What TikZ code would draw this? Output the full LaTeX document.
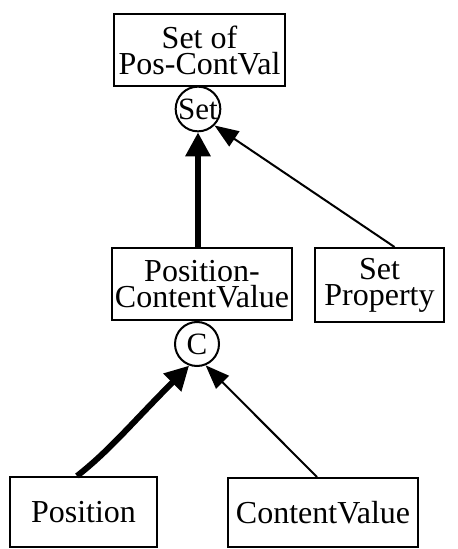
\documentclass[tikz,border=0pt]{standalone}
\usepackage{fontspec}
\setmainfont{Liberation Serif}
\usetikzlibrary{arrows.meta}
\begin{document}
\begin{tikzpicture}[x=1bp,y=-1bp,
  concept/.style={draw,line width=2bp,inner sep=0pt,align=center,
    font=\fontsize{32bp}{26bp}\selectfont},
  junction/.style={draw,circle,line width=2bp,inner sep=0pt,
    minimum size=#1,font=\fontsize{31bp}{31bp}\selectfont},
  strong/.style={line width=6bp,-{Triangle[length=24bp,width=24bp]}},
  weak/.style={line width=2bp,-{Triangle[length=24bp,width=18bp]}}]
  \useasboundingbox (0,0) rectangle (458,549);

  % concept boxes
  \node[concept,minimum width=171bp,minimum height=72bp] (top) at (199.5,50) {Set of\\Pos-ContVal};
  \node[concept,minimum width=180bp,minimum height=72bp] (pcv) at (202,284) {Position-\\ContentValue};
  \node[concept,minimum width=129bp,minimum height=74bp] (sp) at (379.5,285) {Set\\Property};
  \node[concept,minimum width=147bp,minimum height=70bp] (pos) at (83.5,512) {Position};
  \node[concept,minimum width=190bp,minimum height=69bp] (cv) at (323,512.5) {ContentValue};

  % junction circles
  \node[junction=40bp] (setc) at (198,109) {Set};
  \node[junction=44bp] (cc) at (197,344) {C};

  % connectors
  \draw[strong] (pcv.north -| setc) -- (setc.south);
  \draw[weak] ([xshift=15bp]sp.north) -- (setc.315);
  \draw[strong] ([xshift=-6.5bp]pos.north) .. controls (110,450) and (130,425) .. (cc.250);
  \draw[weak] ([xshift=-6bp]cv.north) -- (cc.292);
\end{tikzpicture}
\end{document}
